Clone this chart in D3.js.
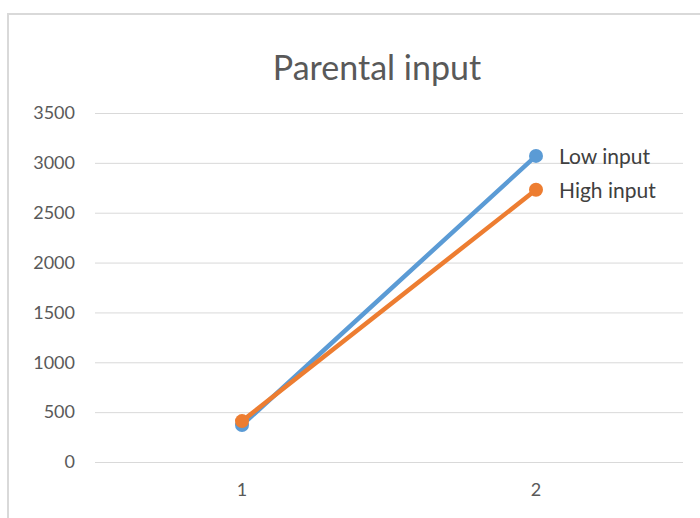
<!DOCTYPE html>
<html><head><meta charset="utf-8">
<script src="https://cdn.jsdelivr.net/npm/d3@7"></script>
<style>body{margin:0;background:#fff}svg{display:block}</style>
</head><body>
<svg id="c" width="700" height="518"></svg>
<script>
const categories = ["1", "2"];
const seriesNames = ["Low input", "High input"];
const lowInput = [370, 3070];
const highInput = [410, 2730];
const yTicks = [0, 500, 1000, 1500, 2000, 2500, 3000, 3500];
const colors = ["#5B9BD5", "#ED7D31"];

const svg = d3.select("#c");
const font = "Lato, 'Open Sans', sans-serif";
// chart border
svg.append("rect").attr("x", 8).attr("y", 14).attr("width", 720).attr("height", 540)
  .attr("fill", "none").attr("stroke", "#d9d9d9").attr("stroke-width", 2);

const x = d3.scaleBand().domain(categories).range([95, 683]);
const y = d3.scaleLinear().domain([0, 3500]).range([462, 113]);

svg.append("text").attr("x", 377).attr("y", 80).attr("text-anchor", "middle")
  .attr("font-family", font).attr("font-size", 34).attr("fill", "#595959").text("Parental input");

const ga = svg.append("g").attr("transform", "translate(95,0)")
  .call(d3.axisLeft(y).tickValues(yTicks).tickFormat(d3.format("d")).tickSize(-588).tickPadding(20));
ga.select(".domain").remove();
ga.selectAll(".tick line").attr("stroke", "#d9d9d9").attr("stroke-width", 1);
ga.selectAll(".tick text").attr("font-family", font).attr("font-size", 18).attr("fill", "#595959");

const gx = svg.append("g").attr("transform", "translate(0,462)")
  .call(d3.axisBottom(x).tickSize(0).tickPadding(21));
gx.select(".domain").remove();
gx.selectAll(".tick text").attr("font-family", font).attr("font-size", 18).attr("fill", "#595959");

const series = [lowInput, highInput];
const cx = d => x(d) + x.bandwidth() / 2;
series.forEach((vals, i) => {
  const pts = categories.map((c, j) => [cx(c), y(vals[j])]);
  svg.append("path").attr("d", d3.line()(pts)).attr("fill", "none")
    .attr("stroke", colors[i]).attr("stroke-width", 4.5).attr("stroke-linecap", "round");
});
series.forEach((vals, i) => {
  svg.selectAll(null).data(categories).enter().append("circle")
    .attr("cx", cx).attr("cy", (c, j) => y(vals[j])).attr("r", 7).attr("fill", colors[i]);
  svg.append("text").attr("x", cx(categories[1]) + 23).attr("y", y(vals[1]) + 8)
    .attr("font-family", font).attr("font-size", 21).attr("fill", "#404040").text(seriesNames[i]);
});
</script>
</body></html>
